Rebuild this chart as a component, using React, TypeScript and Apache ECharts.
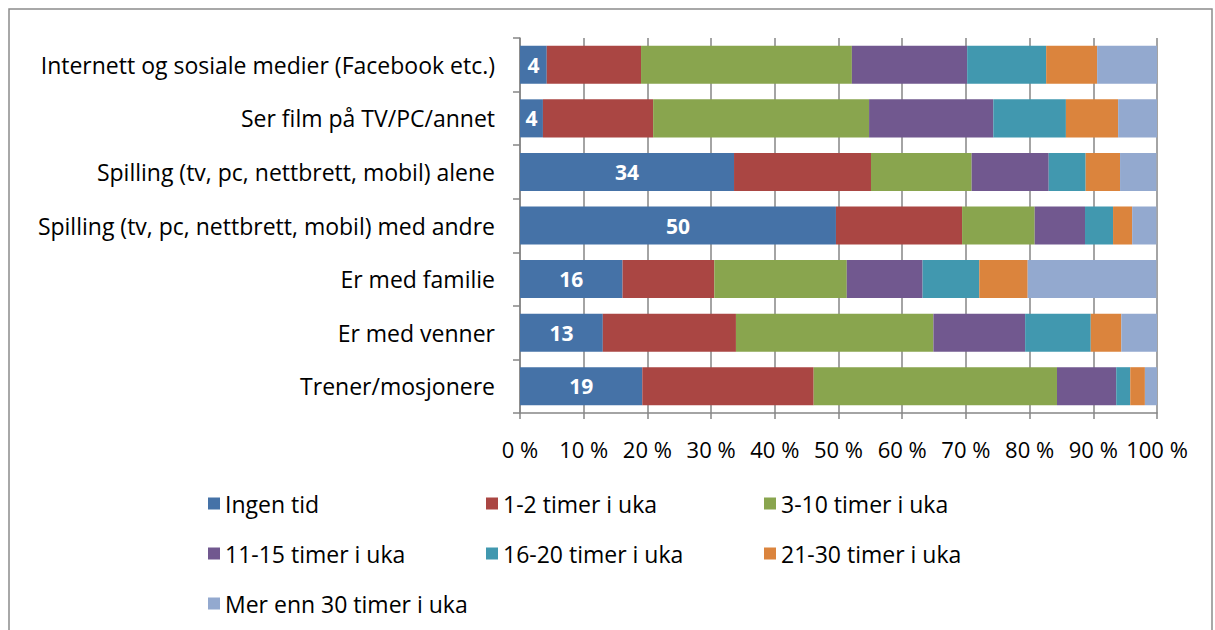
import React, { useEffect, useRef } from "react";
import * as echarts from "echarts";

const categories = [
  "Internett og sosiale medier (Facebook etc.)",
  "Ser film på TV/PC/annet",
  "Spilling (tv, pc, nettbrett, mobil) alene",
  "Spilling (tv, pc, nettbrett, mobil) med andre",
  "Er med familie",
  "Er med venner",
  "Trener/mosjonere",
];

const seriesNames = [
  "Ingen tid",
  "1-2 timer i uka",
  "3-10 timer i uka",
  "11-15 timer i uka",
  "16-20 timer i uka",
  "21-30 timer i uka",
  "Mer enn 30 timer i uka",
];

const ingenTid = [4.2, 3.6, 33.6, 49.6, 16.1, 13.0, 19.2];
const t1_2 = [14.8, 17.3, 21.5, 19.8, 14.4, 20.9, 26.9];
const t3_10 = [33.1, 33.9, 15.8, 11.4, 20.8, 31.0, 38.2];
const t11_15 = [18.1, 19.5, 12.1, 7.9, 11.9, 14.4, 9.3];
const t16_20 = [12.4, 11.4, 5.8, 4.4, 8.9, 10.3, 2.2];
const t21_30 = [8.0, 8.2, 5.4, 3.0, 7.6, 4.8, 2.3];
const t30plus = [9.4, 6.2, 5.7, 3.8, 20.2, 5.6, 1.9];

const xTicks = [0, 10, 20, 30, 40, 50, 60, 70, 80, 90, 100];

const colors = ["#4572A7", "#AA4643", "#89A54E", "#71588F", "#4198AF", "#DB843D", "#93A9CF"];

const FONT = "'Open Sans', Lato, sans-serif";

export default function App() {
  const ref = useRef<HTMLDivElement>(null);
  useEffect(() => {
    if (!ref.current) return;
    const chart = echarts.init(ref.current, undefined, { renderer: "svg" });
    const allData = [ingenTid, t1_2, t3_10, t11_15, t16_20, t21_30, t30plus];
    const series = allData.map((d, i) => ({
      name: seriesNames[i],
      type: "bar",
      stack: "total",
      data: d,
      barCategoryGap: "29%",
      itemStyle: { color: colors[i] },
      label:
        i === 0
          ? {
              show: true,
              position: "inside",
              color: "#fff",
              fontWeight: "bold",
              fontSize: 21,
              fontFamily: FONT,
              formatter: (p: any) => String(Math.round(p.value)),
            }
          : { show: false },
    }));
    chart.setOption({
      animation: false,
      textStyle: { fontFamily: FONT },
      graphic: [
        {
          type: "rect",
          shape: { x: 9, y: 9, width: 1203, height: 640 },
          style: { fill: "none", stroke: "#8c8c8c", lineWidth: 1.5 },
          silent: true,
        },
      ],
      grid: { left: 520, top: 38, width: 637, height: 375, containLabel: false },
      xAxis: {
        type: "value",
        min: xTicks[0],
        max: xTicks[xTicks.length - 1],
        interval: 10,
        axisLine: { show: true, lineStyle: { color: "#868686", width: 1.5 } },
        axisTick: { show: true, length: 6, lineStyle: { color: "#868686", width: 1.5 } },
        splitLine: { show: true, lineStyle: { color: "#868686", width: 1.5 } },
        axisLabel: {
          formatter: "{value} %",
          fontSize: 22,
          color: "#000",
          margin: 25,
          fontFamily: FONT,
        },
      },
      yAxis: {
        type: "category",
        data: categories,
        inverse: true,
        axisLine: { show: true, lineStyle: { color: "#868686", width: 1.5 } },
        axisTick: { show: true, length: 7, lineStyle: { color: "#868686", width: 1.5 } },
        axisLabel: { fontSize: 23, color: "#000", margin: 25, fontFamily: FONT },
      },
      legend: {
        left: 203,
        top: 487,
        width: 850,
        itemWidth: 12,
        itemHeight: 12,
        itemGap: 27,
        icon: "rect",
        data: seriesNames,
        formatter: "{a|{name}}",
        textStyle: {
          fontSize: 23,
          color: "#000",
          fontFamily: FONT,
          rich: { a: { width: 234, fontSize: 23, fontFamily: FONT, color: "#000", lineHeight: 22 } },
        },
      },
      series,
    });
    return () => chart.dispose();
  }, []);
  return (
    <div
      ref={ref}
      style={{ position: "fixed", left: 0, top: 0, width: 1215, height: 630, background: "#fff" }}
    />
  );
}
